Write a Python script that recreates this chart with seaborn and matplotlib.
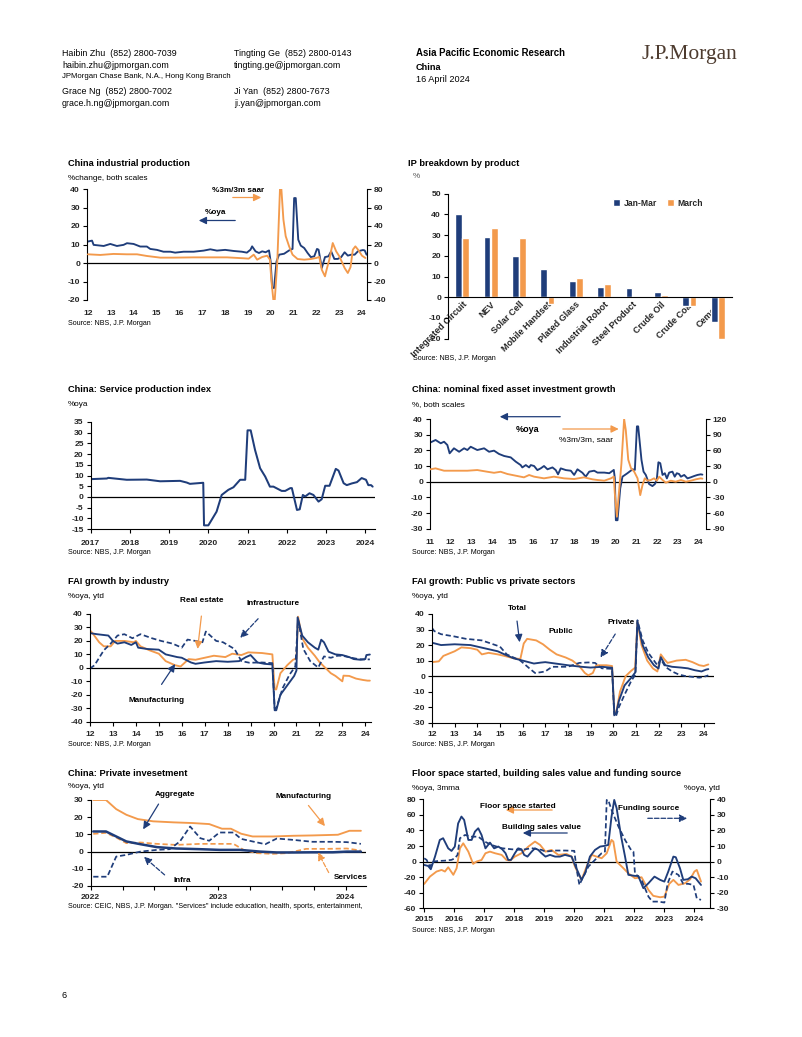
import numpy as np
import pandas as pd
import matplotlib
matplotlib.use("Agg")
import matplotlib.pyplot as plt
import seaborn as sns
from matplotlib import font_manager
from matplotlib.patches import FancyArrowPatch

# ---- values: (time, value) ----
ip_oya = [(2012.0, 11.6), (2012.18, 12.1), (2012.25, 9.8), (2012.69, 9.2), (2012.98, 10.3), (2013.27, 9.2),
          (2013.56, 9.8), (2013.71, 10.7), (2014.0, 10.3), (2014.29, 8.9), (2014.58, 8.9), (2014.73, 7.6),
          (2015.02, 7.1), (2015.31, 6.1), (2015.61, 6.1), (2015.82, 5.6), (2016.19, 6.1), (2016.63, 6.1),
          (2017.07, 6.7), (2017.36, 7.4), (2017.65, 6.7), (2018.01, 7.1), (2018.38, 6.5), (2018.74, 6.1),
          (2018.96, 5.6), (2019.12, 7.2), (2019.19, 9.0), (2019.34, 6.3), (2019.49, 5.4), (2019.63, 6.3),
          (2019.78, 5.8), (2019.93, 6.8), (2020.0, 0.9), (2020.07, -13.5), (2020.15, -13.5), (2020.26, 0.9),
          (2020.37, 4.5), (2020.59, 5.0), (2020.81, 6.8), (2020.96, 7.6), (2021.03, 35.1), (2021.1, 35.1),
          (2021.21, 12.6), (2021.32, 9.4), (2021.47, 8.1), (2021.62, 5.4), (2021.76, 3.2), (2021.91, 3.6),
          (2022.03, 7.6), (2022.1, 7.2), (2022.24, -2.7), (2022.38, 3.2), (2022.53, 3.6), (2022.65, 6.3),
          (2022.79, 2.2), (2022.94, 2.2), (2023.09, 3.2), (2023.24, 5.8), (2023.38, 4.0), (2023.53, 4.5),
          (2023.68, 4.5), (2023.82, 6.3), (2023.97, 6.8), (2024.04, 7.0), (2024.12, 6.8), (2024.2, 4.5)]
ip_saar = [(2012.0, 9.4), (2012.54, 8.7), (2013.12, 9.8), (2013.71, 9.4), (2014.15, 9.4), (2014.58, 7.6),
           (2015.17, 5.8), (2015.75, 5.8), (2016.63, 6.1), (2017.36, 6.1), (2018.09, 6.1), (2018.82, 5.1),
           (2019.04, 4.7), (2019.26, 9.0), (2019.41, 3.6), (2019.63, 6.5), (2019.85, 7.9), (2019.97, 3.6),
           (2020.03, -18), (2020.12, -40), (2020.18, -40), (2020.29, 0), (2020.41, 80), (2020.47, 80),
           (2020.56, 47), (2020.66, 29), (2020.81, 18), (2020.96, 9), (2021.18, 4.3), (2021.47, 3.6),
           (2021.76, 4.3), (2021.99, 5.4), (2022.13, 6.5), (2022.24, -7.2), (2022.38, -14.4), (2022.47, -5.4),
           (2022.57, 3.6), (2022.72, 21.6), (2022.87, 12.6), (2023.01, 7.2), (2023.24, -5.4), (2023.38, -10.8),
           (2023.5, -4.3), (2023.6, 14.4), (2023.71, 18), (2023.85, 13.7), (2024.0, 7.9), (2024.15, 5.4)]

products = ["Integrated Circuit", "NEV", "Solar Cell", "Mobile Handset", "Plated Glass",
            "Industrial Robot", "Steel Product", "Crude Oil", "Crude Coal", "Cement"]
jan_mar = [40.0, 29.0, 20.0, 13.5, 7.7, 4.8, 4.5, 2.4, -4.0, -11.9]
march = [28.5, 33.5, 28.7, -3.1, 9.5, 6.6, 0.0, 1.3, -4.3, -20.2]

service = [(2017.0, 8.3), (2017.41, 8.6), (2017.45, 8.9), (2017.92, 8.0), (2018.43, 8.1), (2018.77, 7.3),
           (2019.28, 7.5), (2019.45, 6.7), (2019.53, 6.1), (2019.87, 6.6), (2019.89, -13.3), (2020.0, -13.3),
           (2020.21, -6.9), (2020.34, 0.9), (2020.51, 3.3), (2020.64, 4.5), (2020.81, 8.0), (2020.94, 8.0),
           (2021.0, 31.1), (2021.08, 31.1), (2021.19, 22.0), (2021.32, 13.4), (2021.45, 9.5), (2021.57, 4.8),
           (2021.66, 4.8), (2021.87, 2.8), (2021.96, 2.8), (2022.09, 4.1), (2022.13, 4.1), (2022.26, -6.1),
           (2022.33, -5.8), (2022.41, 0.9), (2022.47, 0.2), (2022.58, 1.7), (2022.68, 0.9), (2022.81, -2.2),
           (2022.89, -1.1), (2022.98, 5.2), (2023.09, 5.2), (2023.25, 13.1), (2023.32, 12.3), (2023.45, 6.4),
           (2023.53, 5.5), (2023.66, 6.3), (2023.79, 6.9), (2023.91, 8.8), (2024.02, 8.0), (2024.08, 5.5),
           (2024.15, 5.5), (2024.19, 4.8)]

fai_oya = [(2011.0, 24.9), (2011.27, 26.6), (2011.52, 24.5), (2011.68, 25.5), (2011.84, 23.4), (2011.95, 18.1),
           (2012.16, 21.3), (2012.41, 19.1), (2012.65, 21.3), (2012.81, 20.2), (2012.97, 22.3), (2013.29, 20.2),
           (2013.62, 21.3), (2013.86, 19.1), (2014.1, 19.8), (2014.34, 17.7), (2014.59, 16.4), (2014.91, 15.5),
           (2015.15, 12.8), (2015.39, 10.6), (2015.47, 9.1), (2015.64, 10.6), (2015.8, 9.1), (2015.88, 10.6),
           (2016.04, 10.0), (2016.2, 7.4), (2016.36, 8.5), (2016.52, 10.0), (2016.69, 7.9), (2016.93, 9.1),
           (2017.09, 7.4), (2017.2, 4.7), (2017.33, 8.5), (2017.58, 7.4), (2017.82, 7.0), (2017.98, 4.3),
           (2018.14, 7.9), (2018.38, 5.7), (2018.54, 3.2), (2018.71, 6.4), (2018.95, 7.0), (2019.11, 5.8),
           (2019.44, 5.8), (2019.68, 5.4), (2019.9, 7.5), (2019.95, 2.1), (2020.0, -24.6), (2020.08, -24.6),
           (2020.21, -4.3), (2020.32, 3.2), (2020.56, 5.4), (2020.81, 7.9), (2020.92, 7.5), (2021.02, 35.3),
           (2021.08, 35.3), (2021.24, 13.9), (2021.34, 6.4), (2021.45, 4.3), (2021.61, -1.5), (2021.77, -2.8),
           (2021.89, -1.5), (2021.98, 1.1), (2022.06, 12.4), (2022.15, 11.8), (2022.26, 4.3), (2022.37, 5.4),
           (2022.47, 2.1), (2022.58, 5.8), (2022.74, 6.4), (2022.85, 3.2), (2022.95, 5.4), (2023.06, 4.9),
           (2023.15, 3.2), (2023.31, 4.3), (2023.47, 2.1), (2023.63, 2.8), (2023.79, 3.6), (2023.95, 4.3),
           (2024.11, 4.7), (2024.19, 4.5)]
fai_saar = [(2011.0, 23.6), (2011.27, 25.5), (2011.68, 21), (2012.16, 21), (2012.81, 21), (2013.29, 22.3),
            (2013.78, 19), (2014.1, 17), (2014.42, 19), (2014.75, 14.7), (2015.15, 11.5), (2015.55, 8.3),
            (2015.8, 12.8), (2016.04, 9.6), (2016.52, 6.4), (2017.0, 9.6), (2017.49, 6.4), (2017.98, 5.1),
            (2018.46, 8.3), (2018.87, 4.5), (2019.11, 3.2), (2019.44, 1.9), (2019.76, 6.4), (2019.9, 9.6),
            (2019.95, -22.5), (2020.05, -67), (2020.16, -16), (2020.27, 35), (2020.4, 120), (2020.48, 99),
            (2020.6, 42), (2020.73, 26), (2020.89, 19), (2021.05, 6.4), (2021.18, -25.7), (2021.29, -6.4),
            (2021.4, 6.4), (2021.53, 1.9), (2021.69, 3.2), (2021.85, 6.4), (2021.98, 1.9), (2022.1, 9.6),
            (2022.26, 3.2), (2022.42, -1.9), (2022.66, 1.9), (2022.9, 0), (2023.15, 3.2), (2023.39, 0),
            (2023.63, 1.9), (2023.87, 4.5), (2024.11, 6.4), (2024.19, 5.8)]

manufacturing = [(2012.0, 25.8), (2012.3, 25), (2012.8, 24), (2013.0, 20), (2013.2, 18), (2013.5, 19),
                 (2013.8, 17), (2014.0, 19), (2014.1, 15), (2014.5, 14), (2015.0, 13.5), (2015.3, 10),
                 (2015.8, 8), (2016.0, 7.5), (2016.4, 4), (2016.6, 3), (2017.0, 4), (2017.5, 5), (2018.0, 4.5),
                 (2018.5, 5), (2018.8, 8), (2019.0, 9.5), (2019.3, 4), (2019.6, 3), (2019.95, 2.5),
                 (2020.05, -31.5), (2020.12, -31.5), (2020.3, -20), (2020.6, -13), (2020.9, -6), (2021.0, -2),
                 (2021.05, 37.5), (2021.25, 24), (2021.5, 19), (2021.8, 15), (2021.95, 13.5), (2022.08, 20.9),
                 (2022.2, 19), (2022.4, 12), (2022.7, 10), (2023.0, 9.5), (2023.3, 8), (2023.5, 6.5),
                 (2023.8, 6), (2024.0, 6.5), (2024.05, 9.5), (2024.2, 9.9)]
real_estate = [(2012.0, 27.8), (2012.1, 26), (2012.4, 19), (2012.6, 16), (2012.9, 16), (2013.1, 20), (2013.5, 20),
               (2013.9, 19), (2014.0, 20), (2014.2, 16), (2014.6, 13), (2015.0, 10.5), (2015.3, 5), (2015.7, 2),
               (2015.95, 1), (2016.3, 6.5), (2016.6, 6), (2017.0, 7.5), (2017.4, 9), (2017.9, 8), (2018.2, 10.5),
               (2018.6, 9.5), (2018.9, 11.5), (2019.5, 11), (2019.95, 10), (2020.05, -16), (2020.12, -16),
               (2020.3, -4), (2020.6, 2), (2020.85, 6), (2021.0, 7), (2021.07, 38), (2021.25, 22), (2021.5, 15),
               (2021.8, 9), (2022.0, 4.4), (2022.2, 1), (2022.5, -4), (2022.7, -6), (2023.0, -10), (2023.05, -5.8),
               (2023.3, -6), (2023.6, -8), (2023.9, -9), (2024.1, -9.5), (2024.2, -9.5)]
infrastructure = [(2012.0, -0.5), (2012.2, 2), (2012.6, 13), (2012.9, 18), (2013.2, 24), (2013.5, 25),
                  (2013.85, 22), (2014.2, 25), (2014.7, 22), (2015.1, 20), (2015.6, 18), (2016.0, 15),
                  (2016.25, 21), (2016.6, 20), (2016.9, 19), (2017.05, 27), (2017.5, 20), (2017.8, 19),
                  (2018.3, 14), (2018.6, 5), (2018.95, 3.8), (2019.5, 4), (2019.95, 3.5), (2020.05, -30),
                  (2020.12, -30), (2020.4, -15), (2020.7, -5), (2020.95, 1), (2021.07, 36), (2021.3, 14),
                  (2021.6, 5), (2021.95, 0.2), (2022.2, 8.5), (2022.5, 7.5), (2022.8, 9), (2023.0, 9),
                  (2023.4, 7.5), (2023.7, 6.5), (2024.0, 6.2), (2024.2, 6.3)]

fai_total = [(2012.0, 21.5), (2012.4, 20), (2013.0, 20.5), (2013.7, 20), (2014.3, 18), (2014.9, 16), (2015.2, 14),
             (2015.6, 11.5), (2016.0, 10), (2016.5, 8.1), (2016.8, 8.7), (2017.0, 9), (2017.5, 8), (2018.0, 7),
             (2018.6, 6), (2019.0, 5.5), (2019.5, 6), (2019.95, 5.4), (2020.05, -24.5), (2020.12, -24.5),
             (2020.25, -16), (2020.5, -6), (2020.8, -1), (2020.98, 2.5), (2021.07, 35), (2021.3, 20),
             (2021.55, 12), (2021.8, 7), (2022.0, 4.9), (2022.1, 12.2), (2022.3, 7), (2022.6, 6), (2023.0, 5.5),
             (2023.3, 5), (2023.6, 3.8), (2023.9, 3), (2024.1, 4.2), (2024.2, 4.5)]
fai_public = [(2012.0, 9), (2012.3, 9.5), (2012.5, 13), (2013.0, 16), (2013.3, 18.5), (2013.7, 18), (2014.0, 17),
              (2014.2, 14), (2014.5, 15), (2014.9, 14), (2015.2, 13), (2015.6, 11.5), (2015.9, 11), (2016.05, 21),
              (2016.2, 24), (2016.6, 23), (2016.9, 20.5), (2017.2, 17), (2017.5, 14), (2017.9, 12), (2018.2, 10),
              (2018.5, 6.5), (2018.75, 2), (2018.9, 0.5), (2019.1, 2), (2019.25, 7), (2019.7, 7), (2019.95, 6.5),
              (2020.05, -24.5), (2020.12, -24.5), (2020.3, -10), (2020.55, 0), (2020.8, 3.5), (2020.97, 5.5),
              (2021.07, 35), (2021.25, 20), (2021.5, 10), (2021.75, 5), (2021.95, 3), (2022.1, 14),
              (2022.25, 11), (2022.4, 8.5), (2022.8, 10), (2023.2, 10.5), (2023.5, 9), (2023.8, 7),
              (2024.0, 6.5), (2024.2, 7.5)]
fai_private = [(2012.0, 31), (2012.1, 29), (2012.4, 27), (2013.0, 25.5), (2013.5, 24), (2014.2, 23), (2014.6, 21),
               (2015.0, 19), (2015.3, 14), (2015.6, 12), (2015.9, 10), (2016.3, 5), (2016.55, 2), (2016.8, 2.5),
               (2017.0, 3), (2017.3, 6), (2017.7, 6), (2018.0, 6), (2018.5, 8.5), (2018.9, 8.8), (2019.2, 8.5),
               (2019.5, 5), (2019.95, 4.7), (2020.05, -26), (2020.12, -26), (2020.25, -20), (2020.5, -12),
               (2020.8, -3), (2020.98, 1), (2021.07, 36), (2021.3, 23), (2021.55, 15), (2021.8, 10),
               (2021.95, 7), (2022.1, 11), (2022.3, 6), (2022.6, 3), (2022.9, 1), (2023.2, 0), (2023.5, -0.5),
               (2023.8, -1), (2024.0, -0.5), (2024.2, 0.5)]

priv_manuf = [(2022.02, 30), (2022.12, 30), (2022.2, 24.7), (2022.28, 21.4), (2022.37, 18.9), (2022.49, 17.6),
              (2022.65, 17), (2022.8, 16.6), (2022.93, 16), (2023.03, 13.3), (2023.1, 13.3), (2023.18, 10.4),
              (2023.27, 8.8), (2023.43, 8.8), (2023.59, 9.2), (2023.74, 9.4), (2023.94, 9.8), (2024.03, 12.1),
              (2024.12, 12.1)]
priv_aggr = [(2022.02, 11.7), (2022.12, 11.7), (2022.2, 8.8), (2022.28, 5.9), (2022.39, 4.3), (2022.52, 2.6),
             (2022.67, 1.8), (2022.86, 1.4), (2023.01, 1.0), (2023.17, 1.0), (2023.33, 0), (2023.46, -0.5),
             (2023.59, -0.5), (2023.74, -0.4), (2023.9, -0.4), (2024.01, 0), (2024.12, 0)]
priv_infra = [(2022.02, -14.6), (2022.13, -14.6), (2022.2, -2.9), (2022.28, -1.9), (2022.39, 0), (2022.52, 1),
              (2022.62, 1.4), (2022.7, 5.9), (2022.78, 14.6), (2022.86, 7.8), (2022.93, 6.3), (2023.01, 11.1),
              (2023.12, 11.1), (2023.18, 7.4), (2023.27, 5.9), (2023.37, 4.3), (2023.46, 7.6), (2023.59, 6.8),
              (2023.74, 5.7), (2023.9, 5.7), (2024.01, 5.5), (2024.12, 4.5)]
priv_serv = [(2022.02, 10.3), (2022.12, 10.9), (2022.2, 8.2), (2022.28, 4.9), (2022.39, 5.3), (2022.52, 4.5),
             (2022.67, 3.9), (2022.86, 4.5), (2023.01, 4.5), (2023.12, 4.5), (2023.2, 1.0), (2023.3, -0.9),
             (2023.43, -1.3), (2023.54, -0.9), (2023.69, 1.6), (2023.85, 1.6), (2024.01, 1.8), (2024.12, 0.6)]

sales_value = [(2015.0, -4.3), (2015.13, -5.6), (2015.22, -9.8), (2015.36, 6.4), (2015.52, 27.8), (2015.63, 30),
               (2015.8, 17), (2015.91, 13.7), (2016.02, 19.3), (2016.13, 49), (2016.24, 57.8), (2016.33, 53.5),
               (2016.47, 27.8), (2016.58, 27.8), (2016.69, 38.5), (2016.8, 42.8), (2016.91, 34.2), (2017.04, 17),
               (2017.19, 24.4), (2017.33, 17), (2017.47, 19.3), (2017.6, 15.8), (2017.71, 10.7), (2017.8, 2.1),
               (2017.89, 2.1), (2018.02, 10.7), (2018.13, 17), (2018.24, 15.8), (2018.33, 8.6), (2018.44, 6.4),
               (2018.58, 12.8), (2018.69, 17), (2018.8, 15), (2018.91, 10.7), (2019.04, 6.4), (2019.19, 8.6),
               (2019.36, 6.4), (2019.52, 6.4), (2019.69, 8.6), (2019.91, 6.4), (2020.02, -4.3), (2020.24, -23.5),
               (2020.36, -15), (2020.52, 6.4), (2020.69, 15), (2020.86, 19.3), (2021.0, 20.1), (2021.13, 21.4),
               (2021.24, 57.8), (2021.33, 79.2), (2021.41, 68.5), (2021.56, 32.1), (2021.69, 6.4), (2021.8, -17),
               (2022.02, -18.4), (2022.13, -18.4), (2022.3, -34.2), (2022.47, -27.8), (2022.67, -19.3),
               (2022.86, -23.5), (2023.0, -25.7), (2023.13, -12.8), (2023.3, 6.4), (2023.38, 5.6), (2023.52, -8.6),
               (2023.63, -23.5), (2023.78, -22.7), (2023.91, -19.3), (2024.04, -21.4), (2024.22, -30)]
floor_started = [(2015.0, -28.7), (2015.19, -19.3), (2015.41, -12.8), (2015.58, -10.7), (2015.69, -12.8),
                 (2015.8, -7.3), (2015.97, -17), (2016.08, -8.6), (2016.19, 17), (2016.3, 23.5), (2016.47, 12.8),
                 (2016.63, -3), (2016.74, 0), (2016.91, 2.1), (2017.04, 10.7), (2017.19, 12.8), (2017.36, 10.7),
                 (2017.58, 8.6), (2017.74, 2.1), (2017.86, 1.3), (2018.02, 6.4), (2018.24, 10.7), (2018.47, 19.3),
                 (2018.69, 25.7), (2018.86, 21.4), (2019.04, 12.8), (2019.24, 15), (2019.47, 8.6), (2019.74, 9.8),
                 (2019.91, 6.4), (2020.02, -6.4), (2020.24, -23.5), (2020.41, -6.4), (2020.58, 8.6), (2020.74, 6.4),
                 (2020.91, 4.3), (2021.08, 10.7), (2021.24, 27.8), (2021.3, 25.7), (2021.41, 0), (2021.58, -6.4),
                 (2021.8, -15), (2022.02, -21.4), (2022.24, -20.1), (2022.47, -36.4), (2022.63, -44),
                 (2022.86, -45.8), (2023.0, -45), (2023.16, -28.7), (2023.3, -23.5), (2023.47, -30),
                 (2023.69, -27.8), (2023.86, -22.7), (2024.0, -12.8), (2024.08, -10.7), (2024.22, -25.7)]
funding_source = [(2015.0, 2.1), (2015.08, 1.1), (2015.19, -3.2), (2015.3, 0), (2015.47, 0.4), (2015.69, 0.6),
                  (2015.91, 1.1), (2016.02, 2.1), (2016.11, 4.3), (2016.19, 15), (2016.36, 17.1), (2016.58, 16),
                  (2016.8, 16), (2017.02, 12.8), (2017.24, 10.7), (2017.58, 8.6), (2017.91, 7.9), (2018.24, 7.5),
                  (2018.58, 8.6), (2018.91, 7.5), (2019.04, 6.4), (2019.36, 7.1), (2019.69, 7.1), (2020.0, 6.9),
                  (2020.08, -5.4), (2020.17, -15), (2020.3, -9.6), (2020.47, -3.2), (2020.69, 1.1), (2020.91, 5.4),
                  (2021.02, 6.4), (2021.08, 39.6), (2021.13, 39.6), (2021.24, 33.2), (2021.47, 22.5),
                  (2021.69, 13.9), (2021.89, 7.5), (2021.97, 6.4), (2022.02, -7.5), (2022.24, -11.8),
                  (2022.47, -22.5), (2022.6, -25.7), (2022.8, -25.7), (2023.0, -26.3), (2023.11, -13.9),
                  (2023.27, -6.4), (2023.47, -8.6), (2023.63, -14.3), (2023.8, -14.3), (2023.97, -15),
                  (2024.08, -23.6), (2024.22, -24.6)]

NAVY = "#1f3d7a"
ORANGE = "#f39a4c"

sns.set_style("ticks")
avail = {f.name for f in font_manager.fontManager.ttflist}
SANS = "Liberation Sans Narrow" if "Liberation Sans Narrow" in avail else "Liberation Sans"
K = 1.2 if SANS.endswith("Narrow") else 1.0
plt.rcParams["font.family"] = [SANS, "DejaVu Sans"]
plt.rcParams["axes.linewidth"] = 0.8

TITLE, SUB, TICK, SRC, ANN, HDR = 6.7, 5.9, 6.1, 5.1, 5.9, 6.4

W, H = 802, 1037
fig = plt.figure(figsize=(W / 100, H / 100), dpi=100)


def box(l, t, r, b):
    return fig.add_axes([l / W, 1 - b / H, (r - l) / W, (b - t) / H])


def txt(x, y, s, size, bold=False, color="black", ha="left", **kw):
    fig.text(x / W, 1 - y / H, s, fontsize=size * K, fontweight="bold" if bold else "normal",
             color=color, ha=ha, va="center", **kw)


def arrow(x0, y0, x1, y1, color, ls="-"):
    fig.add_artist(FancyArrowPatch((x0 / W, 1 - y0 / H), (x1 / W, 1 - y1 / H), transform=fig.transFigure,
                                   arrowstyle="-|>,head_length=0.45,head_width=0.22", mutation_scale=10,
                                   color=color, lw=0.9, linestyle=ls))


def draw(ax, pts, color, lw=1.35, ls="-"):
    d = pd.DataFrame(pts, columns=["t", "v"])
    sns.lineplot(data=d, x="t", y="v", ax=ax, color=color, linewidth=lw, linestyle=ls,
                 sort=False, estimator=None)


def setup(ax, xlim, ylim, ystep, xticks, xlabels, xpad, spine=True, zero=True):
    ax.set_xlim(*xlim)
    ax.set_ylim(*ylim)
    yt = np.arange(ylim[0], ylim[1] + ystep / 2, ystep)
    ax.set_yticks(yt, labels=[f"{v:g}" for v in yt], fontsize=TICK * K, fontweight="bold")
    ax.set_xticks(xticks, labels=xlabels, fontsize=TICK * K, fontweight="bold")
    ax.set_xlabel("")
    ax.set_ylabel("")
    ax.spines[["top", "right"]].set_visible(False)
    ax.spines["left"].set_color("black")
    ax.tick_params(axis="y", length=3, width=0.8, pad=2, color="black")
    if spine:
        ax.spines["bottom"].set_color("black")
        ax.tick_params(axis="x", which="both", length=3, width=0.8, pad=xpad, color="black")
    else:
        ax.spines["bottom"].set_visible(False)
        ax.tick_params(axis="x", length=0, pad=xpad)
    if zero:
        ax.axhline(0, color="black", lw=0.9, zorder=1)


def right_axis(ax, ylim, ystep):
    yt = np.arange(ylim[0], ylim[1] + ystep / 2, ystep)
    ax.set_ylim(*ylim)
    ax.set_yticks(yt, labels=[f"{v:g}" for v in yt], fontsize=TICK * K, fontweight="bold")
    ax.set_ylabel("")
    ax.spines[["top", "left", "bottom"]].set_visible(False)
    ax.spines["right"].set_color("black")
    ax.tick_params(axis="y", length=3, width=0.8, pad=2, color="black")


def yrs(a, b, short=True):
    t = list(range(a, b + 1))
    return t, [f"{y % 100:02d}" if short else str(y) for y in t]


# ---- page header ----
txt(62, 53, "Haibin Zhu  (852) 2800-7039", HDR)
txt(62, 65, "haibin.zhu@jpmorgan.com", HDR)
txt(62, 77, "JPMorgan Chase Bank, N.A., Hong Kong Branch", 5.6)
txt(62, 91, "Grace Ng  (852) 2800-7002", HDR)
txt(62, 104, "grace.h.ng@jpmorgan.com", HDR)
txt(234, 53, "Tingting Ge  (852) 2800-0143", HDR)
txt(234, 65, "tingting.ge@jpmorgan.com", HDR)
txt(234, 91, "Ji Yan  (852) 2800-7673", HDR)
txt(234, 104, "ji.yan@jpmorgan.com", HDR)
txt(416, 53, "Asia Pacific Economic Research", 6.9, bold=True)
txt(416, 67, "China", 6.6, bold=True)
txt(416, 80, "16 April 2024", 6.6)
fig.text(641 / W, 1 - 55 / H, "J.P.Morgan", fontsize=15.5, family="Liberation Serif",
         color="#4d3b2f", ha="left", va="center")
txt(62, 995, "6", 6.5)

# ---- 1: China industrial production ----
ax = box(87, 189, 367, 300)
draw(ax, ip_oya, NAVY)
ax2 = ax.twinx()
draw(ax2, ip_saar, ORANGE)
t, lab = yrs(2012, 2024)
setup(ax, (2011.96, 2024.22), (-20, 40), 10, t, lab, 7.2, spine=False)
right_axis(ax2, (-40, 80), 20)
txt(68, 164, "China industrial production", TITLE, bold=True)
txt(68, 178, "%change, both scales", SUB)
txt(68, 324, "Source: NBS, J.P. Morgan", SRC)
txt(238.5, 190, "%3m/3m saar", ANN, bold=True, ha="center")
arrow(230, 197.5, 264, 197.5, ORANGE)
txt(215, 213, "%oya", ANN, bold=True, ha="center")
arrow(238, 220.5, 196, 220.5, NAVY)

# ---- 2: IP breakdown by product ----
ax = box(448, 193.7, 732, 338.7)
bars = pd.DataFrame({"product": products * 2,
                     "period": ["Jan-Mar"] * len(products) + ["March"] * len(products),
                     "value": jan_mar + march})
sns.barplot(data=bars, x="product", y="value", hue="period", palette=[NAVY, ORANGE],
            saturation=1, width=0.52, gap=0.08, ax=ax)
ax.spines[["top", "right"]].set_visible(False)
ax.spines["left"].set_color("black")
ax.spines["bottom"].set_position(("data", 0))
ax.spines["bottom"].set_color("black")
ax.set_ylim(-20, 50)
yt = np.arange(-20, 51, 10)
ax.set_yticks(yt, labels=[f"{v:g}" for v in yt], fontsize=TICK * K, fontweight="bold")
ax.set_xticks(range(len(products)))
ax.set_xticklabels(products, rotation=45, ha="right", va="top", rotation_mode="anchor",
                   fontsize=6.5 * K, fontweight="bold")
ax.set_xlim(-0.5, len(products) - 0.5)
ax.set_xlabel("")
ax.set_ylabel("")
ax.tick_params(axis="x", length=0, pad=2)
ax.tick_params(axis="y", length=3, width=0.8, pad=2, color="black")
ax.legend(frameon=False, loc="center left", bbox_to_anchor=(0.57, 0.935), ncol=2, handlelength=0.8,
          handleheight=0.8, handletextpad=0.4, columnspacing=1.2, borderaxespad=0,
          prop={"weight": "bold", "size": 6.2 * K})
txt(408, 164, "IP breakdown by product", TITLE, bold=True)
txt(413, 176, "%", SUB, color="#555555")
txt(413, 359, "Source: NBS, J.P. Morgan", SRC)

# ---- 3: Service production index ----
ax = box(90.7, 422, 375, 529)
draw(ax, service, NAVY, lw=1.45)
t, lab = yrs(2017, 2024, short=False)
setup(ax, (2017.0, 2024.25), (-15, 35), 5, t, lab, 5)
txt(68, 389.5, "China: Service production index", TITLE, bold=True)
txt(68, 405, "%oya", SUB)
txt(68, 553, "Source: NBS, J.P. Morgan", SRC)

# ---- 4: nominal FAI growth ----
ax = box(430, 419, 705.7, 528.7)
draw(ax, fai_oya, NAVY)
ax2 = ax.twinx()
draw(ax2, fai_saar, ORANGE)
t, lab = yrs(2011, 2024)
setup(ax, (2011.0, 2024.35), (-30, 40), 10, t, lab, 7.5, spine=False)
right_axis(ax2, (-90, 120), 30)
txt(412, 390, "China: nominal fixed asset investment growth", TITLE, bold=True)
txt(412, 405, "%, both scales", SUB)
txt(412, 552.5, "Source: NBS, J.P. Morgan", SRC)
arrow(563, 416.7, 497, 416.7, NAVY)
txt(528, 430, "%oya", 6.5, bold=True, ha="center")
arrow(560, 429, 621.5, 429, ORANGE)
txt(586, 439.5, "%3m/3m, saar", 6.0, ha="center")

# ---- 5: FAI growth by industry ----
ax = box(90, 614, 371, 721.7)
draw(ax, real_estate, ORANGE)
draw(ax, infrastructure, NAVY, lw=1.25, ls=(0, (3, 1.6)))
draw(ax, manufacturing, NAVY)
t, lab = yrs(2012, 2024)
setup(ax, (2012.0, 2024.25), (-40, 40), 10, t, lab, 3.6)
txt(68, 581.5, "FAI growth by industry", TITLE, bold=True)
txt(68, 596, "%oya, ytd", SUB)
txt(68, 744, "Source: NBS, J.P. Morgan", SRC)
txt(201.7, 600.7, "Real estate", ANN, bold=True, ha="center")
arrow(201.7, 613.3, 197.3, 651.7, ORANGE)
txt(273.3, 603.3, "Infrastructure", ANN, bold=True, ha="center")
arrow(260, 616.7, 238.3, 640, NAVY, ls="--")
txt(156.7, 701, "Manufacturing", ANN, bold=True, ha="center")
arrow(160, 686.7, 176.7, 661.7, NAVY)

# ---- 6: FAI public vs private ----
ax = box(432, 614, 714, 722.7)
draw(ax, fai_public, ORANGE)
draw(ax, fai_private, NAVY, lw=1.25, ls=(0, (3, 1.6)))
draw(ax, fai_total, NAVY)
t, lab = yrs(2012, 2024)
setup(ax, (2012.0, 2024.45), (-30, 40), 10, t, lab, 3.2)
txt(412, 581.5, "FAI growth: Public vs private sectors", TITLE, bold=True)
txt(412, 596, "%oya, ytd", SUB)
txt(412, 744, "Source: NBS, J.P. Morgan", SRC)
txt(517.5, 608.3, "Total", ANN, bold=True, ha="center")
arrow(516.7, 618.3, 520, 645, NAVY)
txt(560.8, 631.7, "Public", ANN, bold=True, ha="center")
txt(621, 622.7, "Private", ANN, bold=True, ha="center")
arrow(616.7, 631.7, 599, 660, NAVY, ls="--")

# ---- 7: Private investment ----
ax = box(90.7, 800, 366, 886)
draw(ax, priv_manuf, ORANGE)
draw(ax, priv_serv, ORANGE, lw=1.25, ls=(0, (3, 1.6)))
draw(ax, priv_infra, NAVY, lw=1.25, ls=(0, (3, 1.6)))
draw(ax, priv_aggr, NAVY, lw=1.8)
setup(ax, (2022.0, 2024.16), (-20, 30), 10, [2022, 2023, 2024], ["2022", "2023", "2024"], 3.0)
ax.set_xticks(np.arange(2022, 2024.2, 0.25), minor=True)
txt(68, 773, "China: Private invesetment", TITLE, bold=True)
txt(68, 786, "%oya, ytd", SUB)
txt(68, 907, 'Source: CEIC, NBS, J.P. Morgan. "Services" include education, health, sports, entertainment,', SRC)
txt(175, 795, "Aggregate", ANN, bold=True, ha="center")
arrow(160, 801.7, 141.7, 831.7, NAVY)
txt(303.3, 796, "Manufacturing", ANN, bold=True, ha="center")
arrow(306.7, 803.3, 326.7, 828.3, ORANGE)
txt(182.5, 880.7, "Infra", ANN, bold=True, ha="center")
arrow(166.7, 876.7, 141.7, 855, NAVY, ls="--")
txt(351, 877.3, "Services", ANN, bold=True, ha="center")
arrow(330, 875, 316.7, 850, ORANGE, ls="--")

# ---- 8: Floor space, sales, funding ----
ax = box(423, 799.3, 710, 908.3)
draw(ax, floor_started, ORANGE)
draw(ax, sales_value, NAVY)
ax2 = ax.twinx()
draw(ax2, funding_source, NAVY, lw=1.25, ls=(0, (3, 1.6)))
t, lab = yrs(2015, 2024, short=False)
setup(ax, (2014.96, 2024.52), (-60, 80), 20, t, lab, 2.4)
right_axis(ax2, (-30, 40), 10)
txt(412, 774, "Floor space started, building sales value and funding source", TITLE, bold=True)
txt(412, 788, "%oya, 3mma", SUB)
txt(720, 788, "%oya, ytd", SUB, ha="right")
txt(412, 931, "Source: NBS, J.P. Morgan", SRC)
txt(518.3, 806.7, "Floor space started", ANN, bold=True, ha="center")
arrow(555, 810, 503, 810, ORANGE)
txt(541.7, 827.7, "Building sales value", ANN, bold=True, ha="center")
arrow(570, 833, 520, 833, NAVY)
txt(648.7, 808.3, "Funding source", ANN, bold=True, ha="center")
arrow(645, 818.3, 690, 818.3, NAVY, ls="--")

fig.savefig("out.png", dpi=100)
